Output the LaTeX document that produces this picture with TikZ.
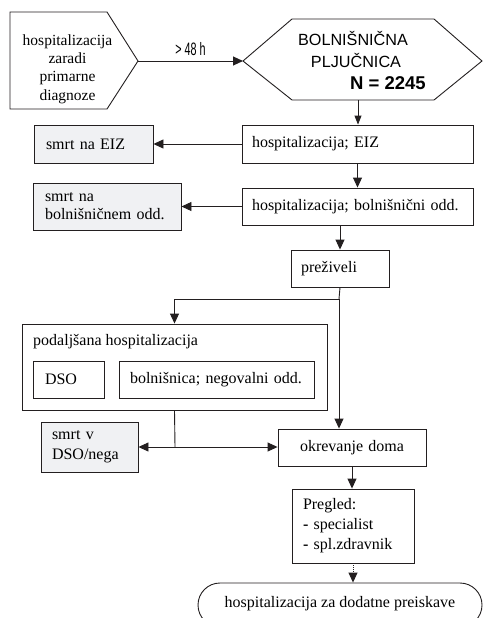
\documentclass[tikz,border=0pt]{standalone}
\usepackage{fontspec}
\setmainfont{Liberation Serif}
\newfontfamily\hexfont{Liberation Sans}
\usetikzlibrary{arrows.meta}
\definecolor{deathgray}{RGB}{240,241,243}
\definecolor{linec}{RGB}{35,31,32}
\tikzset{
  arr/.style={draw=linec, line width=0.9pt, -{Triangle[length=10pt,width=9pt]}},
  ln/.style={draw=linec, line width=0.9pt},
  boxl/.style={draw=linec, line width=0.9pt, rectangle, inner ysep=0pt, align=left,
     font=\fontsize{16}{19}\selectfont},
  deathbox/.style={boxl, fill=deathgray},
  txt/.style={inner sep=0pt, font=\fontsize{16}{19}\selectfont}
}
\begin{document}
\begin{tikzpicture}[x=1pt,y=-1pt]
\useasboundingbox (0,0) rectangle (483,618);
\clip (0,0) rectangle (483,618);
\fill[white] (0,0) rectangle (483,618);

% left pentagon
\draw[ln] (10,12) -- (107,12) -- (138,61) -- (107,109) -- (10,109) -- cycle;
\coordinate (ptip) at (138,61);
\node[txt, align=center, font=\fontsize{15.5}{18.3}\selectfont] (pent) at (67.5,69)
  {hospitalizacija\\zaradi\\primarne\\diagnoze};

% hexagon
\draw[ln] (243,61) -- (292,19) -- (434,19) -- (482,61) -- (434,100) -- (292,100) -- cycle;
\coordinate (hleft) at (243,61);
\coordinate (hbot) at (358,100);
\node[inner sep=0pt, font=\hexfont\fontsize{16.2}{19}\selectfont] (hexA) at (353,38) {BOLNIŠNIČNA};
\node[inner sep=0pt, font=\hexfont\fontsize{16.2}{19}\selectfont] (hexB) at (356,60) {PLJUČNICA};
\node[inner sep=0pt, font=\hexfont\bfseries\fontsize{18.5}{20}\selectfont, anchor=west] (hexC) at (350,83) {N = 2245};

\draw[arr] (ptip) -- node[above=5pt, inner sep=0pt, font=\hexfont\fontsize{18}{20}\selectfont] (lbl) {\scalebox{0.6}[1]{> 48 h}} (hleft);

% boxes
\node[boxl, minimum width=231pt, minimum height=38pt, text width=211pt, inner xsep=10pt] (eiz) at (357.5,144) {hospitalizacija; EIZ};
\node[deathbox, minimum width=119pt, minimum height=38pt, text width=95pt, inner xsep=12pt] (smrtEIZ) at (93.5,144) {smrt na EIZ};
\node[boxl, minimum width=231pt, minimum height=37pt, text width=211pt, inner xsep=10pt] (bol) at (357.5,206.5) {hospitalizacija; bolnišnični odd.};
\node[deathbox, minimum width=148pt, minimum height=47pt, text width=124pt, inner xsep=12pt, font=\fontsize{16}{18}\selectfont] (smrtBol) at (107,206.5) {smrt na\\bolnišničnem odd.};
\node[boxl, minimum width=98pt, minimum height=37pt, text width=78pt, inner xsep=10pt] (prez) at (340,268.5) {preživeli};

\node[draw=linec, line width=0.9pt, minimum width=305pt, minimum height=86pt, inner sep=0pt] (big) at (174.5,367) {};
\node[txt, anchor=west] (bigT) at (33,342) {podaljšana hospitalizacija};
\node[boxl, minimum width=71pt, minimum height=37pt, text width=47pt, inner xsep=12pt] (dso) at (68.5,379.5) {DSO};
\node[boxl, minimum width=195pt, minimum height=37pt, text width=173pt, inner xsep=11pt] (neg) at (216.5,379.5) {bolnišnica; negovalni odd.};

\node[deathbox, minimum width=97pt, minimum height=50pt, text width=75pt, inner xsep=11pt, font=\fontsize{16}{20}\selectfont] (smrtDSO) at (89.5,447) {smrt v\\DSO/nega};
\node[boxl, align=center, minimum width=148pt, minimum height=37pt, text width=128pt, inner xsep=10pt] (okr) at (352,447.5) {okrevanje doma};
\node[boxl, minimum width=122pt, minimum height=74pt, text width=100pt, inner xsep=11pt, font=\fontsize{16}{20}\selectfont] (preg) at (353,526) {Pregled:\\\textbf{-} specialist\\\textbf{-} spl.zdravnik};
\node[draw=linec, line width=0.9pt, rounded corners=22pt, minimum width=284pt, minimum height=44pt, inner sep=0pt, font=\fontsize{16}{19}\selectfont] (oval) at (340,605) {};
\node[txt] (ovalT) at (340,604) {hospitalizacija za dodatne preiskave};

% connectors
\draw[ln, -{Triangle[length=9pt,width=7pt]}] (hbot) -- (hbot |- eiz.north);
\draw[arr] (eiz.west) -- (smrtEIZ.east);
\draw[arr] (eiz.south) -- (bol.north);
\draw[arr] (bol.west) -- (smrtBol.east);
\draw[arr] (prez.north |- bol.south) -- (prez.north);
\coordinate (split) at (339,299);
\draw[ln] (prez.south) -- (split);
\draw[arr] (split) -| (big.north);
\draw[arr] (split) -- (split |- okr.north);
\coordinate (join) at (175,447);
\draw[ln] (big.south) -- (join);
\draw[arr] (join) -- (smrtDSO.east);
\draw[arr] (join) -- (join -| okr.west);
\draw[arr] (okr.south) -- (okr.south |- preg.north);
\draw[ln, densely dotted, -{Triangle[length=10pt,width=9pt]}] (preg.south) -- (preg.south |- oval.north);
\end{tikzpicture}
\end{document}
